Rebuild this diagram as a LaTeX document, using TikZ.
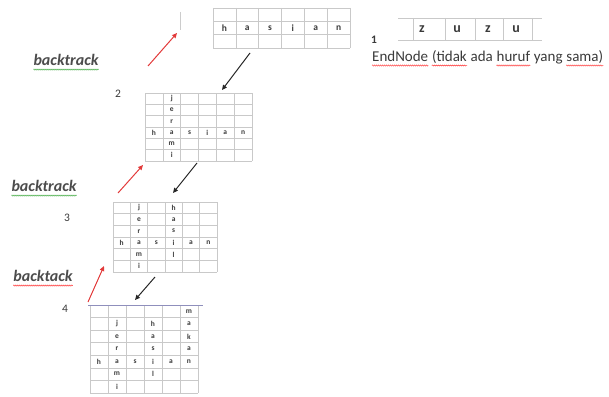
\documentclass[tikz,border=0pt]{standalone}
\usepackage{fontspec}
\setmainfont{Carlito}
\usetikzlibrary{arrows.meta,decorations.pathmorphing}
\definecolor{txt}{HTML}{3A3A3A}
\definecolor{redarrow}{HTML}{E23A3A}
\definecolor{gridgray}{HTML}{C9C9C9}
\begin{document}
\begin{tikzpicture}[x=1pt,y=-1pt,
  gridline/.style={draw=gridgray,line width=0.5pt},
  gl/.style={font=\fontsize{7.5}{8}\selectfont\bfseries,text=txt,inner sep=0pt},
  glbig/.style={font=\fontsize{9.5}{10}\selectfont\bfseries,text=txt,inner sep=0pt},
  zl/.style={font=\fontsize{14}{15}\selectfont\bfseries,text=txt,inner sep=0pt},
  numlabel/.style={font=\fontsize{11.5}{12}\selectfont,text=txt,inner sep=0pt},
  btlabel/.style={font=\fontsize{16}{17}\selectfont\bfseries\itshape,text=black!70,inner sep=0pt},
  endtxt/.style={font=\fontsize{15}{16}\selectfont,text=txt,inner sep=0pt,anchor=base west},
  wavygreen/.style={draw=green!55!black!70,line width=0.5pt,decorate,decoration={snake,amplitude=0.6pt,segment length=2pt}},
  wavyred/.style={draw=red!75,line width=0.5pt,decorate,decoration={snake,amplitude=0.6pt,segment length=2pt}},
  redarr/.style={draw=redarrow,line width=1pt,-{Triangle[length=5pt,width=4.5pt]}},
  blackarr/.style={draw=black!85,line width=1pt,-{Triangle[length=5pt,width=4.5pt]}}
]
\useasboundingbox (0,0) rectangle (609,396);

% ---------- grid 1 : hasian ----------
\begin{scope}[shift={(213,8)},x=22.83pt,y=-13.33pt]
  \foreach \i in {0,...,6} \draw[gridline] (\i,0) -- (\i,3);
  \foreach \j in {0,...,3} \draw[gridline] (0,\j) -- (6,\j);
  \foreach \ch [count=\k] in {h,a,s,i,a,n} \node[glbig] (a-h\k) at (\k-0.5,1.5) {\ch};
\end{scope}
\draw[draw=gray!40,line width=0.5pt] (180,12) -- (180,30);

% ---------- grid 1b : zuzu ----------
\draw[gridline] (398,18) -- (542,18);
\draw[gridline] (398,40) -- (542,40);
\foreach \xx in {413,445,475,503,532} \draw[gridline] (\xx,18) -- (\xx,40);
\node[zl] (z1) at (422,29) {z};
\node[zl] (z2) at (457,29) {u};
\node[zl] (z3) at (488,29) {z};
\node[zl] (z4) at (516,29) {u};
\node[numlabel,font=\fontsize{11.5}{12}\selectfont\bfseries] (n1) at (374,40) {1};

% EndNode text
\node[endtxt] (e1) at (372,61) {EndNode};
\node[endtxt] (e2) at ([xshift=3.4pt]e1.base east) {(tidak};
\node[endtxt] (e3) at ([xshift=3.4pt]e2.base east) {ada};
\node[endtxt] (e4) at ([xshift=3.4pt]e3.base east) {huruf};
\node[endtxt] (e5) at ([xshift=3.4pt]e4.base east) {yang};
\node[endtxt] (e6) at ([xshift=3.4pt]e5.base east) {sama)};
\foreach \w in {e1,e2,e4,e6}
  \draw[wavyred] ([yshift=-4.5pt]\w.base west) -- ([yshift=-4.5pt]\w.base east);

% ---------- grid 2 ----------
\begin{scope}[shift={(145,93)},x=17.83pt,y=-11.33pt]
  \foreach \i in {0,...,6} \draw[gridline] (\i,0) -- (\i,6);
  \foreach \j in {0,...,6} \draw[gridline] (0,\j) -- (6,\j);
  \foreach \ch [count=\k] in {h,a,s,i,a,n} \node[gl] (b-h\k) at (\k-0.5,3.5) {\ch};
  \foreach \ch/\r in {j/1,e/2,r/3,m/5,i/6} \node[gl] (b-v\r) at (1.5,\r-0.5) {\ch};
\end{scope}
\node[numlabel] (n2) at (118,94) {2};

% ---------- grid 3 ----------
\begin{scope}[shift={(113,202)},x=17.33pt,y=-11.67pt]
  \foreach \i in {0,...,6} \draw[gridline] (\i,0) -- (\i,6);
  \foreach \j in {0,...,6} \draw[gridline] (0,\j) -- (6,\j);
  \foreach \ch [count=\k] in {h,a,s,i,a,n} \node[gl] (c-h\k) at (\k-0.5,3.5) {\ch};
  \foreach \ch/\r in {j/1,e/2,r/3,m/5,i/6} \node[gl] (c-v\r) at (1.5,\r-0.5) {\ch};
  \foreach \ch/\r in {h/1,a/2,s/3,l/5} \node[gl] (c-w\r) at (3.5,\r-0.5) {\ch};
\end{scope}
\node[numlabel] (n3) at (67,218) {3};

% ---------- grid 4 ----------
\begin{scope}[shift={(90,305)},x=18pt,y=-12.57pt]
  \foreach \i in {0,...,6} \draw[gridline] (\i,0) -- (\i,7);
  \foreach \j in {1,...,7} \draw[gridline] (0,\j) -- (6,\j);
  \foreach \ch [count=\k] in {h,a,s,i,a,n} \node[gl] (d-h\k) at (\k-0.5,4.5) {\ch};
  \foreach \ch/\r in {j/2,e/3,r/4,m/6,i/7} \node[gl] (d-v\r) at (1.5,\r-0.5) {\ch};
  \foreach \ch/\r in {h/2,a/3,s/4,l/6} \node[gl] (d-w\r) at (3.5,\r-0.5) {\ch};
  \foreach \ch/\r in {m/1,a/2,k/3,a/4} \node[gl] (d-u\r) at (5.5,\r-0.5) {\ch};
\end{scope}
\draw[draw=blue!25!gray!70,line width=0.7pt] (88,305) -- (203,305);
\node[numlabel] (n4) at (65,309) {4};

% ---------- backtrack labels ----------
\node[btlabel] (bt1) at (66,60) {backtrack};
\node[btlabel] (bt2) at (44,186) {backtrack};
\node[btlabel] (bt3) at (43,276) {backtack};
\draw[wavygreen] ([yshift=-4pt]bt1.base west) -- ([yshift=-4pt]bt1.base east);
\draw[wavygreen] ([yshift=-4pt]bt2.base west) -- ([yshift=-4pt]bt2.base east);
\draw[wavyred] ([yshift=-4pt]bt3.base west) -- ([yshift=-4pt]bt3.base east);

% ---------- arrows ----------
\coordinate (ka1) at (250,53);  \coordinate (kb1) at (222,90);
\coordinate (ka2) at (197,163); \coordinate (kb2) at (173,193);
\coordinate (ka3) at (155,277); \coordinate (kb3) at (135,300);
\draw[blackarr] (ka1) -- (kb1);
\draw[blackarr] (ka2) -- (kb2);
\draw[blackarr] (ka3) -- (kb3);

\coordinate (ra1) at (148,66);  \coordinate (rb1) at (177,33);
\coordinate (ra2) at (118,193); \coordinate (rb2) at (143,165);
\coordinate (ra3) at (88,302);  \coordinate (rb3) at (104,266);
\draw[redarr] (ra1) -- (rb1);
\draw[redarr] (ra2) -- (rb2);
\draw[redarr] (ra3) -- (rb3);
\end{tikzpicture}
\end{document}
